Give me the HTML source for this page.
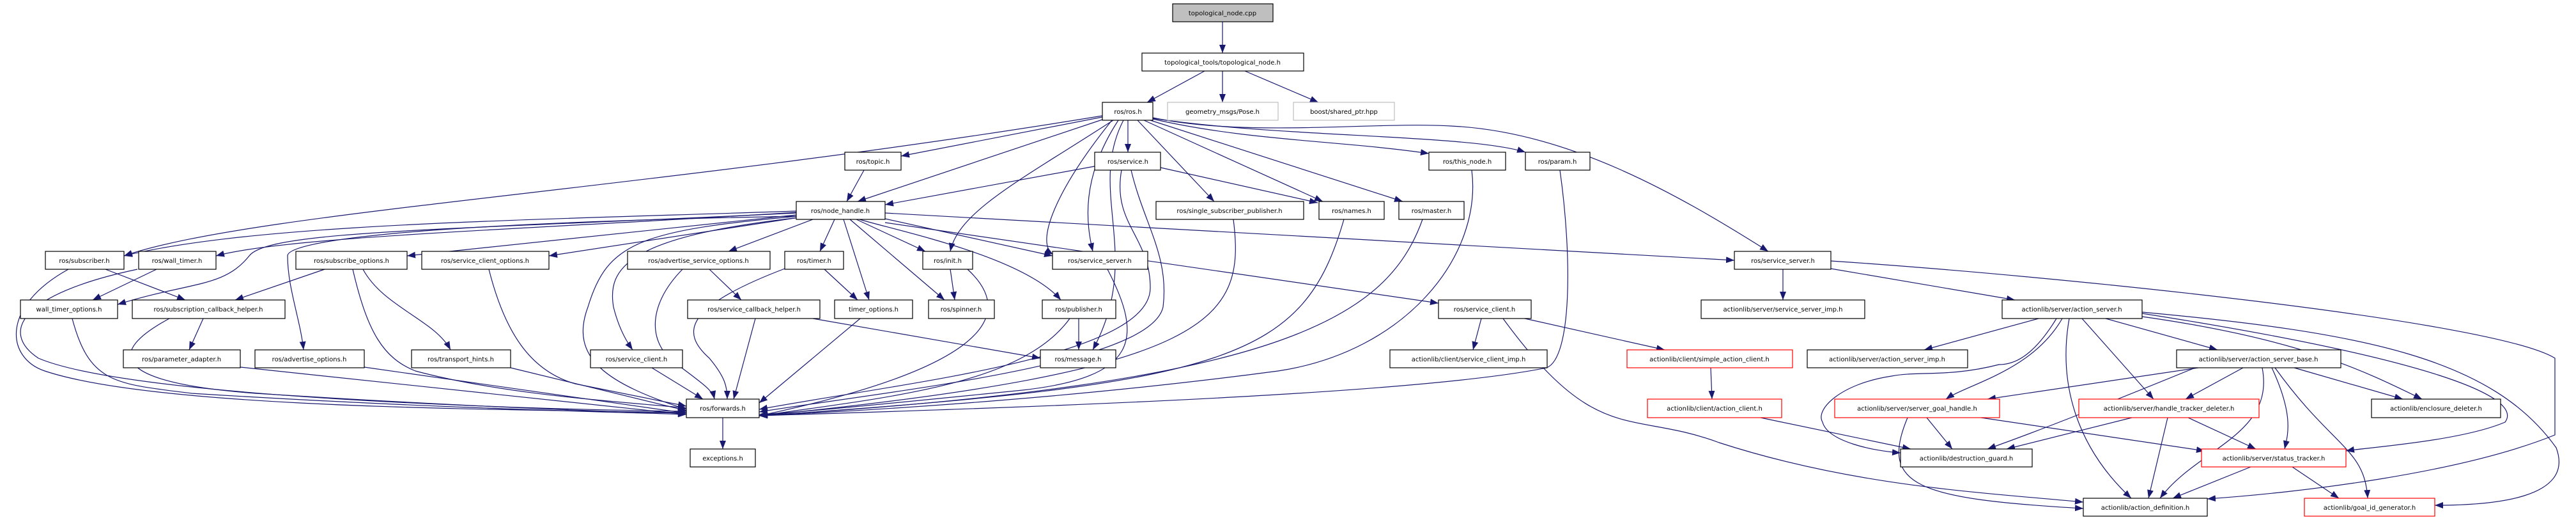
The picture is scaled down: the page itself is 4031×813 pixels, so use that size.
<!DOCTYPE html>
<html><head><meta charset="utf-8"><style>
html,body{margin:0;padding:0;background:#fff;width:4031px;height:813px;overflow:hidden}
svg text{font-family:"DejaVu Sans","Liberation Sans",sans-serif;font-size:10px;text-anchor:middle;fill:#000}
.e{fill:none;stroke:#191970;stroke-width:1.2;marker-end:url(#a)}
.n{fill:#fff;stroke:#000;stroke-width:1.2}
.r{fill:#fff;stroke:#ff0000;stroke-width:1.2}
.g{fill:#fff;stroke:#bfbfbf;stroke-width:1.2}
</style></head><body>
<svg width="4031" height="813" viewBox="0 0 4031 813" xmlns="http://www.w3.org/2000/svg">
<defs><marker id="a" markerWidth="13" markerHeight="10" refX="13" refY="5" orient="auto" markerUnits="userSpaceOnUse"><path d="M0,0 L13,5 L0,10 z" fill="#191970"/></marker></defs>
<g>
<path class="e" d="M1913,34 L1913,83"/>
<path class="e" d="M1885,111 L1795,160"/>
<path class="e" d="M1913,111 L1913,160"/>
<path class="e" d="M1948,111 L2063,160"/>
<path class="e" d="M1725,181 C1000,300 400,330 194,400"/>
<path class="e" d="M1725,183 L1410,244"/>
<path class="e" d="M1728,186 L1342,315"/>
<path class="e" d="M1742,188 C1600,280 1500,330 1487,393"/>
<path class="e" d="M1740,188 C1650,300 1620,380 1648,398"/>
<path class="e" d="M1750,188 C1690,280 1700,350 1710,393"/>
<path class="e" d="M1758,188 C1700,300 1790,400 1710,547"/>
<path class="e" d="M1765,188 L1765,238"/>
<path class="e" d="M1780,188 L1900,315"/>
<path class="e" d="M1790,188 L2070,315"/>
<path class="e" d="M1800,188 L2195,315"/>
<path class="e" d="M1804,186 C1950,220 2100,220 2236,240"/>
<path class="e" d="M1804,185 C2000,215 2300,210 2387,238"/>
<path class="e" d="M1804,184 C1950,215 2150,190 2270,197 C2450,205 2620,300 2767,393"/>
<path class="e" d="M1352,266 L1325,315"/>
<path class="e" d="M1713,260 L1385,320"/>
<path class="e" d="M1816,262 L2062,317"/>
<path class="e" d="M1755,266 C1740,350 1800,370 1800,450 C1800,560 1400,600 1188,640"/>
<path class="e" d="M1770,266 C1790,350 1830,400 1820,480 C1800,570 1400,610 1188,644"/>
<path class="e" d="M1246,330 C800,345 400,350 194,400"/>
<path class="e" d="M1246,332 C800,360 450,370 338,400"/>
<path class="e" d="M1246,333 C700,360 420,360 390,400 C350,450 300,440 184,476"/>
<path class="e" d="M1246,336 L637,400"/>
<path class="e" d="M1250,340 L859,400"/>
<path class="e" d="M1250,338 C600,350 450,380 450,400 C450,450 470,500 475,547"/>
<path class="e" d="M1250,338 C1000,360 950,380 920,480 C890,560 950,600 1074,640"/>
<path class="e" d="M1252,340 C980,370 950,420 960,480 C970,520 985,540 990,547"/>
<path class="e" d="M1272,343 L1140,393"/>
<path class="e" d="M1306,343 L1283,393"/>
<path class="e" d="M1320,343 L1360,469"/>
<path class="e" d="M1330,343 L1478,469"/>
<path class="e" d="M1340,343 L1448,393"/>
<path class="e" d="M1345,343 C1400,360 1600,400 1660,469"/>
<path class="e" d="M1385,342 L1647,400"/>
<path class="e" d="M1385,348 L2251,474"/>
<path class="e" d="M1385,333 L2714,407"/>
<path class="e" d="M107,421 C0,480 10,560 70,580 C250,640 800,640 1074,645"/>
<path class="e" d="M165,421 L290,469"/>
<path class="e" d="M245,421 L145,469"/>
<path class="e" d="M215,421 C30,460 0,520 60,560 C200,620 800,640 1074,643"/>
<path class="e" d="M508,421 L368,469"/>
<path class="e" d="M568,421 C600,480 680,500 705,547"/>
<path class="e" d="M552,421 C575,520 600,560 650,580 C800,620 1000,630 1074,638"/>
<path class="e" d="M765,421 C790,520 830,580 900,600 C1000,620 1050,630 1074,635"/>
<path class="e" d="M1068,421 C1010,480 1015,540 1060,570 C1100,600 1115,610 1118,624"/>
<path class="e" d="M1110,421 L1160,469"/>
<path class="e" d="M1228,420 C1070,480 1065,520 1110,560 C1135,590 1138,605 1138,624"/>
<path class="e" d="M1290,421 L1342,469"/>
<path class="e" d="M113,498 C140,600 180,600 300,615 C700,640 1000,645 1074,648"/>
<path class="e" d="M318,498 L296,547"/>
<path class="e" d="M265,498 C150,560 200,600 400,615 C800,640 1000,645 1074,646"/>
<path class="e" d="M376,574 L1074,648"/>
<path class="e" d="M570,574 L1074,646"/>
<path class="e" d="M799,575 L1074,642"/>
<path class="e" d="M1020,575 L1100,624"/>
<path class="e" d="M1182,498 L1148,624"/>
<path class="e" d="M1272,498 L1628,560"/>
<path class="e" d="M1346,498 L1188,630"/>
<path class="e" d="M1487,421 L1494,469"/>
<path class="e" d="M1514,421 C1600,500 1520,580 1188,650"/>
<path class="e" d="M1688,498 L1688,547"/>
<path class="e" d="M1674,498 C1600,600 1400,620 1188,650"/>
<path class="e" d="M1733,421 C1790,530 1780,590 1600,610 C1400,630 1250,645 1188,648"/>
<path class="e" d="M1930,343 C1950,500 1900,580 1188,650"/>
<path class="e" d="M2103,343 C2040,560 1930,600 1188,650"/>
<path class="e" d="M2226,343 C2170,500 2000,600 1188,650"/>
<path class="e" d="M2303,266 C2320,400 2200,550 2000,580 C1700,620 1400,640 1188,650"/>
<path class="e" d="M2441,266 C2460,400 2460,560 2420,575 C2200,620 1500,640 1188,650"/>
<path class="e" d="M1131,653 L1131,702"/>
<path class="e" d="M2318,498 L2305,547"/>
<path class="e" d="M2386,498 L2605,547"/>
<path class="e" d="M2352,498 C2500,700 2550,640 2690,692 C2900,760 3100,770 3260,785"/>
<path class="e" d="M2677,575 L2679,624"/>
<path class="e" d="M2755,653 L2990,702"/>
<path class="e" d="M2790,421 L2790,469"/>
<path class="e" d="M2865,420 L3153,469"/>
<path class="e" d="M2865,408 C3200,430 3900,500 3998,560 L3998,680 C3850,740 3600,770 3454,780"/>
<path class="e" d="M3190,498 L3011,547"/>
<path class="e" d="M3218,498 C3180,560 3150,570 3128,570 C3050,590 3000,580 2960,588 C2880,600 2840,640 2852,660 C2860,690 2930,705 2974,708"/>
<path class="e" d="M3227,498 C3180,580 3080,600 3045,624"/>
<path class="e" d="M3238,498 C3220,600 3250,700 3335,779"/>
<path class="e" d="M3258,498 L3370,624"/>
<path class="e" d="M3295,498 L3470,547"/>
<path class="e" d="M3352,495 C3600,530 3700,580 3790,624"/>
<path class="e" d="M3352,490 C3800,560 3950,620 3920,660 C3850,690 3700,700 3671,705"/>
<path class="e" d="M3352,488 C3700,520 3900,560 4000,700 C4030,780 3900,790 3810,790"/>
<path class="e" d="M3440,575 L3110,624"/>
<path class="e" d="M3435,575 C3300,630 3200,670 3110,702"/>
<path class="e" d="M3510,575 L3420,624"/>
<path class="e" d="M3540,575 C3560,680 3440,700 3380,779"/>
<path class="e" d="M3555,575 C3590,650 3580,680 3575,702"/>
<path class="e" d="M3560,575 C3650,700 3700,700 3705,779"/>
<path class="e" d="M3590,575 L3760,624"/>
<path class="e" d="M3015,653 L3055,702"/>
<path class="e" d="M2985,653 C2940,760 3000,780 3260,795"/>
<path class="e" d="M3100,653 L3450,705"/>
<path class="e" d="M3336,653 L3140,702"/>
<path class="e" d="M3392,653 L3362,779"/>
<path class="e" d="M3424,653 L3530,702"/>
<path class="e" d="M3522,730 L3400,779"/>
<path class="e" d="M3587,730 L3660,779"/>
</g>
<g>
<rect x="1835" y="6" width="157" height="28" fill="#bfbfbf" stroke="#000" stroke-width="1.2"/><text x="1913" y="24">topological_node.cpp</text>
<rect class="n" x="1787" y="83" width="253" height="28"/><text x="1913" y="101">topological_tools/topological_node.h</text>
<rect class="n" x="1725" y="160" width="79" height="28"/><text x="1765" y="178">ros/ros.h</text>
<rect class="g" x="1827" y="160" width="173" height="28"/><text x="1913" y="178">geometry_msgs/Pose.h</text>
<rect class="g" x="2024" y="160" width="158" height="28"/><text x="2103" y="178">boost/shared_ptr.hpp</text>
<rect class="n" x="1322" y="238" width="88" height="28"/><text x="1366" y="256">ros/topic.h</text>
<rect class="n" x="1713" y="238" width="103" height="28"/><text x="1765" y="256">ros/service.h</text>
<rect class="n" x="2236" y="238" width="120" height="28"/><text x="2296" y="256">ros/this_node.h</text>
<rect class="n" x="2387" y="238" width="101" height="28"/><text x="2437" y="256">ros/param.h</text>
<rect class="n" x="1246" y="315" width="139" height="28"/><text x="1315" y="333">ros/node_handle.h</text>
<rect class="n" x="1809" y="315" width="231" height="28"/><text x="1924" y="333">ros/single_subscriber_publisher.h</text>
<rect class="n" x="2064" y="315" width="102" height="28"/><text x="2115" y="333">ros/names.h</text>
<rect class="n" x="2189" y="315" width="102" height="28"/><text x="2240" y="333">ros/master.h</text>
<rect class="n" x="71" y="393" width="123" height="28"/><text x="132" y="411">ros/subscriber.h</text>
<rect class="n" x="217" y="393" width="121" height="28"/><text x="277" y="411">ros/wall_timer.h</text>
<rect class="n" x="463" y="393" width="174" height="28"/><text x="550" y="411">ros/subscribe_options.h</text>
<rect class="n" x="660" y="393" width="199" height="28"/><text x="759" y="411">ros/service_client_options.h</text>
<rect class="n" x="982" y="393" width="223" height="28"/><text x="1093" y="411">ros/advertise_service_options.h</text>
<rect class="n" x="1228" y="393" width="92" height="28"/><text x="1274" y="411">ros/timer.h</text>
<rect class="n" x="1444" y="393" width="78" height="28"/><text x="1483" y="411">ros/init.h</text>
<rect class="n" x="1647" y="393" width="149" height="28"/><text x="1721" y="411">ros/service_server.h</text>
<rect class="n" x="2714" y="393" width="151" height="28"/><text x="2790" y="411">ros/service_server.h</text>
<rect class="n" x="32" y="469" width="152" height="29"/><text x="108" y="487">wall_timer_options.h</text>
<rect class="n" x="207" y="469" width="239" height="29"/><text x="326" y="487">ros/subscription_callback_helper.h</text>
<rect class="n" x="1076" y="469" width="207" height="29"/><text x="1180" y="487">ros/service_callback_helper.h</text>
<rect class="n" x="1306" y="469" width="122" height="29"/><text x="1367" y="487">timer_options.h</text>
<rect class="n" x="1453" y="469" width="103" height="29"/><text x="1504" y="487">ros/spinner.h</text>
<rect class="n" x="1631" y="469" width="115" height="29"/><text x="1688" y="487">ros/publisher.h</text>
<rect class="n" x="2251" y="469" width="145" height="29"/><text x="2323" y="487">ros/service_client.h</text>
<rect class="n" x="2662" y="469" width="256" height="29"/><text x="2790" y="487">actionlib/server/service_server_imp.h</text>
<rect class="n" x="3133" y="469" width="219" height="29"/><text x="3242" y="487">actionlib/server/action_server.h</text>
<rect class="n" x="193" y="547" width="183" height="28"/><text x="284" y="565">ros/parameter_adapter.h</text>
<rect class="n" x="399" y="547" width="171" height="28"/><text x="484" y="565">ros/advertise_options.h</text>
<rect class="n" x="644" y="547" width="155" height="28"/><text x="721" y="565">ros/transport_hints.h</text>
<rect class="n" x="924" y="547" width="144" height="28"/><text x="996" y="565">ros/service_client.h</text>
<rect class="n" x="1628" y="547" width="118" height="28"/><text x="1687" y="565">ros/message.h</text>
<rect class="n" x="2175" y="547" width="246" height="28"/><text x="2298" y="565">actionlib/client/service_client_imp.h</text>
<rect class="r" x="2546" y="547" width="259" height="28"/><text x="2675" y="565">actionlib/client/simple_action_client.h</text>
<rect class="n" x="2828" y="547" width="251" height="28"/><text x="2953" y="565">actionlib/server/action_server_imp.h</text>
<rect class="n" x="3406" y="547" width="257" height="28"/><text x="3534" y="565">actionlib/server/action_server_base.h</text>
<rect class="n" x="1074" y="624" width="114" height="29"/><text x="1131" y="642">ros/forwards.h</text>
<rect class="r" x="2578" y="624" width="210" height="29"/><text x="2683" y="642">actionlib/client/action_client.h</text>
<rect class="r" x="2871" y="624" width="258" height="29"/><text x="3000" y="642">actionlib/server/server_goal_handle.h</text>
<rect class="r" x="3253" y="624" width="282" height="29"/><text x="3394" y="642">actionlib/server/handle_tracker_deleter.h</text>
<rect class="n" x="3711" y="624" width="202" height="29"/><text x="3812" y="642">actionlib/enclosure_deleter.h</text>
<rect class="n" x="1080" y="702" width="102" height="28"/><text x="1131" y="720">exceptions.h</text>
<rect class="n" x="2974" y="702" width="206" height="28"/><text x="3077" y="720">actionlib/destruction_guard.h</text>
<rect class="r" x="3445" y="702" width="226" height="28"/><text x="3558" y="720">actionlib/server/status_tracker.h</text>
<rect class="n" x="3260" y="779" width="194" height="28"/><text x="3357" y="797">actionlib/action_definition.h</text>
<rect class="r" x="3606" y="779" width="204" height="28"/><text x="3708" y="797">actionlib/goal_id_generator.h</text>
</g>
</svg>
</body></html>
